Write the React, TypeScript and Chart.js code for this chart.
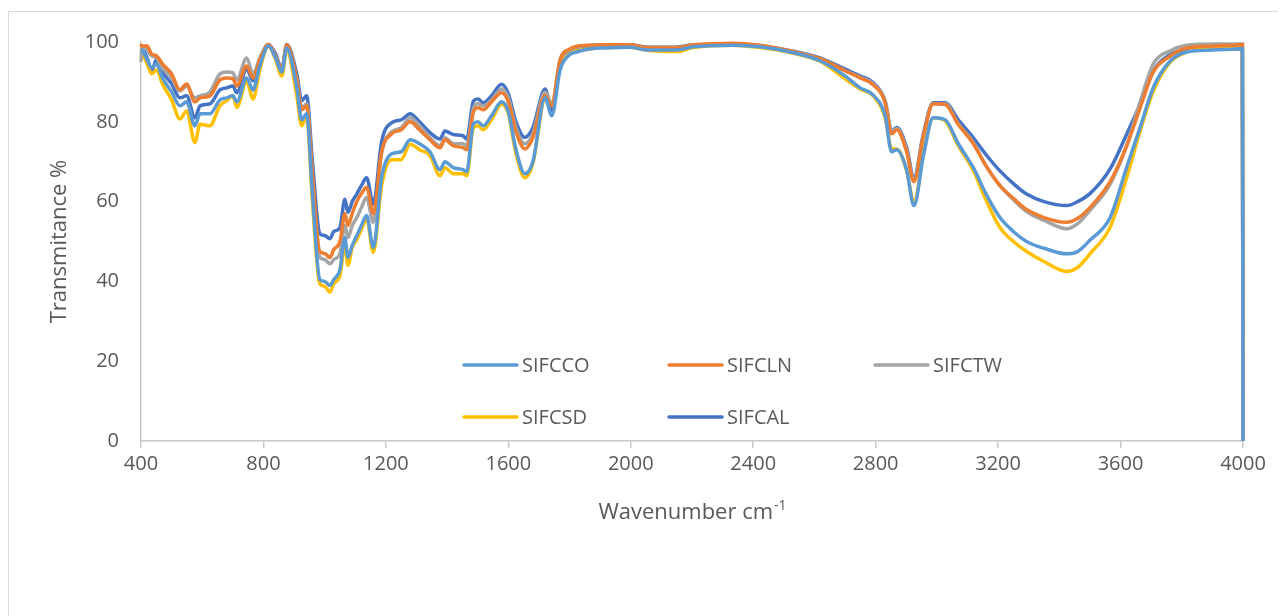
import React, { useEffect, useRef } from 'react';
import { Chart, registerables } from 'chart.js';

Chart.register(...registerables);

// Wavenumber positions (cm-1) of the sampled points
const wavenumbers = [
  400, 402, 420, 435, 451, 470, 500, 527, 549, 576,
  593, 625, 658, 680, 700, 713, 745, 766, 788, 816,
  840, 860, 876, 909, 925, 941, 960, 984, 1000, 1017,
  1030, 1050, 1066, 1076, 1090, 1105, 1120, 1137, 1159, 1186,
  1219, 1250, 1279, 1310, 1344, 1377, 1393, 1420, 1452, 1464,
  1486, 1501, 1518, 1545, 1578, 1600, 1625, 1654, 1680, 1720,
  1742, 1769, 1800, 1823, 1870, 1910, 1998, 2052, 2150, 2204,
  2335, 2422, 2531, 2618, 2700, 2749, 2792, 2831, 2852, 2869,
  2901, 2925, 2956, 2988, 3027, 3070, 3119, 3160, 3206, 3250,
  3293, 3350, 3424, 3460, 3500, 3566, 3620, 3664, 3707, 3763,
  3816, 3900, 3968, 3998, 4000,
];

const sifcco = [
  98, 98, 95.5, 93.5, 94.5, 91, 87.5, 84, 85, 79,
  82, 82, 85.5, 86, 86.5, 85, 91, 88, 94, 99,
  96, 92.5, 98.5, 88.5, 80.5, 82, 62, 40.5, 40, 39,
  40.5, 43, 51, 46, 49, 51.5, 54, 56.5, 48.5, 66,
  72, 72.5, 75.5, 74.5, 72.5, 68, 70, 68.5, 68, 67.5,
  79.5, 80, 79, 81.5, 85, 82.5, 73, 67, 70, 86,
  81.5, 93, 96.8, 97.5, 98.3, 98.5, 98.7, 98, 98, 98.8,
  99.2, 98.8, 97.3, 95.3, 91.5, 88.5, 86.7, 81.5, 72.5, 73,
  68, 59, 71.5, 81, 80.5, 74.5, 68.5, 62, 56, 52.5,
  50, 48.3, 46.9, 47.5, 50.3, 56, 68.6, 78.6, 88.6, 95.3,
  97.5, 98, 98.2, 98.3, 0,
];

const sifcln = [
  99.5, 99, 99, 97, 96.5, 94.5, 92, 88, 89.5, 85,
  86, 86.5, 90.5, 91, 90.8, 89, 94, 91, 95.5, 99.4,
  96.5, 93, 99.3, 90.5, 83, 84, 67, 47.5, 47, 46,
  48, 50, 57, 54, 57, 60, 62, 63.6, 57, 72.5,
  77, 78, 80, 78, 75.5, 73.5, 75.5, 74, 73.5, 73,
  82.5, 83.5, 83, 85, 87.3, 85, 77.5, 73.2, 76, 86.5,
  84, 95.5, 98.2, 98.9, 99.2, 99.3, 99.3, 98.6, 98.6, 99.3,
  99.7, 99.2, 97.6, 95.8, 92.8, 91, 89.3, 84.8, 77, 78,
  72.5, 65, 76.5, 84.5, 84.3, 79.3, 74.5, 69, 64, 60.8,
  58, 56, 54.8, 55.8, 58.5, 65, 74, 83.5, 92.5, 96.5,
  98.5, 99, 99.2, 99.3, 0,
];

const sifctw = [
  95, 98.5, 98, 96.5, 96, 93.5, 91, 87.7, 89, 86,
  86.5, 87.5, 92, 92.5, 92.3, 90.5, 96, 92, 96, 99.3,
  96, 93, 99, 90.5, 83.5, 84.5, 66, 46, 45.5, 44.4,
  45.5, 47, 54, 51, 54, 56, 58.5, 61, 54.8, 72,
  77.5, 78.5, 81, 79, 76, 74, 76, 74.5, 74.5, 74,
  83.5, 84.5, 84, 85.5, 88.2, 86, 78.5, 74.5, 77, 87.5,
  84.5, 95.5, 98, 98.8, 99.2, 99.3, 99.3, 98.5, 98.5, 99.2,
  99.3, 99, 97.5, 95.8, 92.8, 91.2, 89.5, 85, 77.5, 78.3,
  73, 65.5, 76.5, 84.5, 84.5, 79.5, 74.8, 69, 64, 60.5,
  57.5, 55.3, 53.2, 54.5, 57.8, 64.4, 74, 85, 94.5, 97.8,
  99.2, 99.5, 99.5, 99.5, 0,
];

const sifcsd = [
  97, 97, 94.5, 92, 93, 89.5, 85.5, 80.7, 82.7, 74.8,
  79.4, 79, 84, 85.3, 86.5, 83.6, 90.2, 85.7, 93, 99,
  95.5, 91.5, 98, 86.5, 79, 81.5, 60, 39.4, 38.8, 37.3,
  39.5, 41.5, 49.4, 44, 48.5, 50.5, 53, 55.7, 47.3, 64,
  70.5, 70.5, 74.4, 73, 71.5, 66.5, 68.5, 67, 67, 66.5,
  78.5, 79, 78, 80.5, 84.4, 82, 72, 66, 69.5, 85.5,
  85, 94, 97, 97.8, 98.3, 98.6, 98.7, 97.9, 97.6, 98.6,
  99.2, 98.6, 97.2, 95.2, 90.8, 88.2, 86.5, 81, 73.2, 73.2,
  67.8, 59.8, 71.9, 81, 80.2, 74, 67.8, 60.5, 53.5, 50,
  47.5, 45, 42.5, 43.5, 46.9, 53.6, 66, 77.7, 87.7, 95,
  97.5, 98.5, 99, 99.2, 0,
];

const sifcal = [
  98.5, 98.6, 96, 92.8, 95.7, 92.5, 89.5, 86, 86.5, 81,
  84, 84.5, 88, 88.5, 89, 87.3, 93.2, 90.3, 94, 99.4,
  97, 93.2, 99.4, 91.9, 85.3, 86.5, 70, 52, 51.5, 50.7,
  52.5, 53.5, 60.6, 57.3, 60, 61.9, 64, 66, 59.4, 75,
  79.8, 80.5, 82, 80, 77.3, 75.7, 77.7, 76.8, 76.5, 75.7,
  85.2, 85.7, 84.8, 86.5, 89.4, 87, 80, 76.1, 78.5, 88.2,
  82.8, 95.2, 97.8, 98.6, 99, 99.3, 99.3, 98.7, 98.7, 99.3,
  99.3, 99, 97.7, 96, 93.2, 91.5, 89.8, 85.2, 77.7, 78.6,
  73.6, 66, 77, 84.8, 84.8, 80.5, 76, 71.8, 67.7, 64.5,
  61.9, 60, 59, 60, 62, 68.2, 76.9, 84.4, 92.7, 96.9,
  97.9, 98.2, 98.2, 98.3, 0,
];

const seriesNames = ['SIFCCO', 'SIFCLN', 'SIFCTW', 'SIFCSD', 'SIFCAL'];
const seriesValues = [sifcco, sifcln, sifctw, sifcsd, sifcal];
const seriesColors = ['#5B9BD5', '#ED7D31', '#A5A5A5', '#FFC000', '#4472C4'];

const TEXT = '#595959';
const AXIS = '#c8c8c8';
const FAMILY = '"Open Sans", "Liberation Sans", sans-serif';

const legendPlugin = {
  id: 'insideLegend',
  afterDraw(chart: any) {
    const ctx = chart.ctx as CanvasRenderingContext2D;
    const colX = [456, 661, 867];
    const rowY = [357, 409];
    ctx.save();
    ctx.font = `20px ${FAMILY}`;
    ctx.textBaseline = 'middle';
    ctx.textAlign = 'left';
    chart.data.datasets.forEach((ds: any, i: number) => {
      const x = colX[i % 3];
      const y = rowY[Math.floor(i / 3)];
      ctx.strokeStyle = ds.borderColor;
      ctx.lineWidth = 3.5;
      ctx.lineCap = 'round';
      ctx.beginPath();
      ctx.moveTo(x, y);
      ctx.lineTo(x + 53, y);
      ctx.stroke();
      ctx.fillStyle = TEXT;
      ctx.fillText(ds.label, x + 58, y + 1);
    });
    ctx.restore();
  },
};

const titlePlugin = {
  id: 'axisTitles',
  afterDraw(chart: any) {
    const ctx = chart.ctx as CanvasRenderingContext2D;
    ctx.save();
    ctx.fillStyle = TEXT;
    // x title with superscript
    const main = 'Wavenumber cm';
    const sup = '-1';
    ctx.font = `22px ${FAMILY}`;
    const w1 = ctx.measureText(main).width;
    ctx.font = `14px ${FAMILY}`;
    const w2 = ctx.measureText(sup).width;
    const cx = (chart.chartArea.left + chart.chartArea.right) / 2;
    const start = cx - (w1 + w2) / 2;
    const baseY = chart.chartArea.bottom + 78;
    ctx.textAlign = 'left';
    ctx.textBaseline = 'alphabetic';
    ctx.font = `22px ${FAMILY}`;
    ctx.fillText(main, start, baseY);
    ctx.font = `14px ${FAMILY}`;
    ctx.fillText(sup, start + w1 + 1, baseY - 9);
    // y title
    ctx.font = `22px ${FAMILY}`;
    ctx.translate(52, (chart.chartArea.top + chart.chartArea.bottom) / 2);
    ctx.rotate(-Math.PI / 2);
    ctx.textAlign = 'center';
    ctx.textBaseline = 'middle';
    ctx.fillText('Transmitance %', 0, 0);
    ctx.restore();
  },
};

export default function App() {
  const ref = useRef<HTMLCanvasElement>(null);

  useEffect(() => {
    document.documentElement.style.overflow = 'hidden';
    const canvas = ref.current;
    if (!canvas) return;
    const chart = new Chart(canvas, {
      type: 'line',
      data: {
        datasets: seriesNames.map((name, k) => ({
          label: name,
          data: wavenumbers.map((w, i) => ({ x: w, y: seriesValues[k][i] })),
          borderColor: seriesColors[k],
          backgroundColor: seriesColors[k],
          borderWidth: 3.5,
          pointRadius: 0,
          pointHoverRadius: 0,
          cubicInterpolationMode: 'monotone',
          fill: false,
          clip: 6,
        })),
      },
      options: {
        animation: false,
        responsive: false,
        devicePixelRatio: 1,
        layout: { padding: { left: 73, right: 43, top: 33, bottom: 87 } },
        plugins: {
          legend: { display: false },
          tooltip: { enabled: false },
          title: { display: false },
        },
        scales: {
          x: {
            type: 'linear',
            min: 400,
            max: 4000,
            ticks: {
              stepSize: 400,
              color: TEXT,
              font: { family: FAMILY, size: 20 },
              padding: 4,
              maxRotation: 0,
              autoSkip: false,
              callback: (v: any) => String(v),
            },
            grid: {
              display: true,
              drawOnChartArea: false,
              drawTicks: true,
              tickLength: 7,
              color: AXIS,
              lineWidth: 1.5,
            },
            border: { display: true, color: AXIS, width: 1.5 },
            afterFit: (s: any) => {
              s.height = 80;
            },
          },
          y: {
            type: 'linear',
            min: 0,
            max: 100,
            ticks: {
              stepSize: 20,
              color: TEXT,
              font: { family: FAMILY, size: 20 },
              padding: 22,
              callback: (v: any) => String(v),
            },
            grid: { display: false, drawTicks: false },
            border: { display: true, color: AXIS, width: 1.5 },
            afterFit: (s: any) => {
              s.width = 60;
            },
          },
        },
      },
      plugins: [legendPlugin, titlePlugin],
    } as any);
    return () => chart.destroy();
  }, []);

  return (
    <div style={{ position: 'relative', width: 1278, height: 608 }}>
      <div
        style={{
          position: 'absolute',
          left: 0,
          top: 3,
          right: 0,
          bottom: 0,
          borderTop: '1.5px solid #d9d9d9',
          borderLeft: '1.5px solid #d9d9d9',
        }}
      />
      <canvas
        ref={ref}
        width={1278}
        height={600}
        style={{ position: 'absolute', left: 0, top: 0, width: 1278, height: 600 }}
      />
    </div>
  );
}
